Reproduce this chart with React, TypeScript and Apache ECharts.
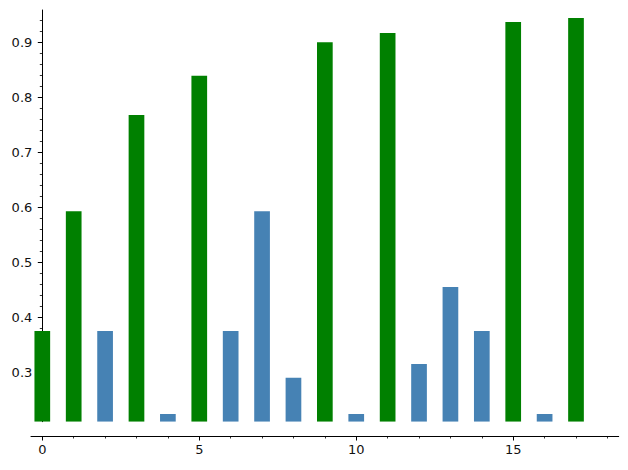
import React, { useEffect, useRef } from "react";
import * as echarts from "echarts";

// Data
const positions = [0, 1, 2, 3, 4, 5, 6, 7, 8, 9, 10, 11, 12, 13, 14, 15, 16, 17];
const values = [
  0.375, 0.593, 0.375, 0.768, 0.224, 0.839, 0.375, 0.593, 0.29,
  0.9, 0.224, 0.917, 0.315, 0.455, 0.375, 0.937, 0.224, 0.944,
];
const barColors = [
  "green", "green", "blue", "green", "blue", "green", "blue", "blue", "blue",
  "green", "blue", "green", "blue", "blue", "blue", "green", "blue", "green",
];
const colorMap: Record<string, string> = { green: "#008000", blue: "#4682B4" };

const xMajorTicks = [0, 5, 10, 15];
const xMinorTicks = [1, 2, 3, 4, 6, 7, 8, 9, 11, 12, 13, 14, 16, 17, 18];
const yMajorTicks = [0.3, 0.4, 0.5, 0.6, 0.7, 0.8, 0.9];
const yMinorTicks = [
  0.22, 0.24, 0.26, 0.28, 0.32, 0.34, 0.36, 0.38, 0.42, 0.44, 0.46, 0.48,
  0.52, 0.54, 0.56, 0.58, 0.62, 0.64, 0.66, 0.68, 0.72, 0.74, 0.76, 0.78,
  0.82, 0.84, 0.86, 0.88, 0.92, 0.94,
];

const X_MIN = -0.36;
const X_MAX = 18.36;
const Y_MIN = 0.2102;
const Y_MAX = 0.9587;
const BAR_HALF = 0.25;

const FONT = "DejaVu Sans";
const TEXT = "#111";

const GRID_LEFT = 31;
const GRID_WIDTH = 587.7;
// y axis sits at x = 0 of the x scale
const Y_AXIS_SHIFT = (-X_MIN / (X_MAX - X_MIN)) * GRID_WIDTH;

export default function App() {
  const ref = useRef<HTMLDivElement>(null);

  useEffect(() => {
    if (!ref.current) return;
    const chart = echarts.init(ref.current, null, { renderer: "svg" });

    const lineStyle = { color: "#000", width: 1 };

    const option: any = {
      animation: false,
      backgroundColor: "#fff",
      grid: { left: GRID_LEFT, top: 10, width: GRID_WIDTH, height: 411.7, containLabel: false },
      xAxis: [
        {
          type: "value",
          min: X_MIN,
          max: X_MAX,
          offset: 14.3,
          position: "bottom",
          axisLine: { show: true, onZero: false, lineStyle },
          axisTick: {
            show: true,
            length: 4.5,
            inside: false,
            customValues: xMajorTicks,
            lineStyle: { color: "#000", width: 1 },
          },
          axisLabel: {
            show: true,
            customValues: xMajorTicks,
            margin: 7,
            color: TEXT,
            fontFamily: FONT,
            fontSize: 13,
          },
          splitLine: { show: false },
        },
        {
          type: "value",
          min: X_MIN,
          max: X_MAX,
          offset: 14.3,
          position: "bottom",
          axisLine: { show: false, onZero: false },
          axisTick: {
            show: true,
            length: 2.5,
            customValues: xMinorTicks,
            lineStyle: { color: "#000", width: 0.8 },
          },
          axisLabel: { show: false },
          splitLine: { show: false },
        },
      ],
      yAxis: [
        {
          type: "value",
          min: Y_MIN,
          max: Y_MAX,
          position: "left",
          offset: -Y_AXIS_SHIFT,
          axisLine: { show: true, onZero: false, lineStyle },
          axisTick: {
            show: true,
            length: 4.5,
            customValues: yMajorTicks,
            lineStyle: { color: "#000", width: 1 },
          },
          axisLabel: {
            show: true,
            customValues: yMajorTicks,
            margin: 10,
            color: TEXT,
            fontFamily: FONT,
            fontSize: 13,
            formatter: (v: number) => v.toFixed(1),
          },
          splitLine: { show: false },
        },
        {
          type: "value",
          min: Y_MIN,
          max: Y_MAX,
          position: "left",
          offset: -Y_AXIS_SHIFT,
          axisLine: { show: false, onZero: false },
          axisTick: {
            show: true,
            length: 2.5,
            customValues: yMinorTicks,
            lineStyle: { color: "#000", width: 0.8 },
          },
          axisLabel: { show: false },
          splitLine: { show: false },
        },
      ],
      series: [
        {
          type: "custom",
          xAxisIndex: 0,
          yAxisIndex: 0,
          clip: true,
          data: positions.map((p, i) => ({
            value: [p, values[i]],
            itemStyle: { color: colorMap[barColors[i]] },
          })),
          encode: { x: 0, y: 1 },
          renderItem: (params: any, api: any) => {
            const x = api.value(0);
            const v = api.value(1);
            const tl = api.coord([x - BAR_HALF, v]);
            const br = api.coord([x + BAR_HALF, Math.max(0, Y_MIN)]);
            return {
              type: "rect",
              shape: { x: tl[0], y: tl[1], width: br[0] - tl[0], height: br[1] - tl[1] },
              style: { fill: api.visual("color") },
            };
          },
          z: 1,
        },
      ],
    };

    chart.setOption(option);
    return () => chart.dispose();
  }, []);

  return (
    <div
      ref={ref}
      style={{ position: "fixed", left: 0, top: 0, width: 628, height: 470, background: "#fff" }}
    />
  );
}
